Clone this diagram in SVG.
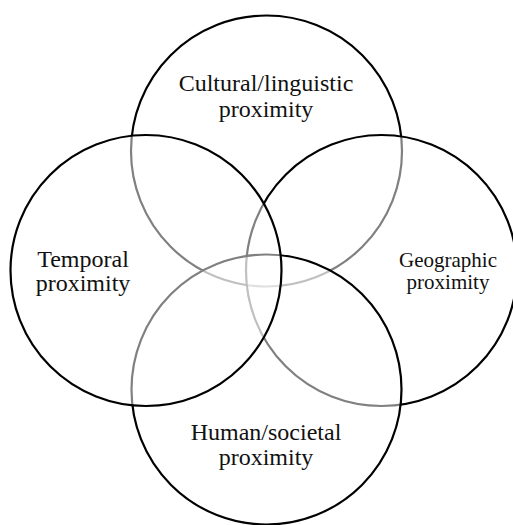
<svg xmlns="http://www.w3.org/2000/svg" width="513" height="525" viewBox="0 0 513 525">
<style>
.c{fill:#fff;fill-opacity:0.5;stroke:#000;stroke-width:2.2}
.t{font-family:"Liberation Serif","Times New Roman",serif;font-size:24px;fill:#111;text-anchor:middle}
.s{font-size:21px}
</style>
<rect width="513" height="525" fill="#fff"/>
<g id="cultural">
<circle class="c" cx="266.5" cy="151" r="135.5"/>
<text class="t" x="266" y="91">Cultural/linguistic</text>
<text class="t" x="266" y="117">proximity</text>
</g>
<g id="geographic">
<circle class="c" cx="381.5" cy="270.5" r="135.5"/>
<text class="t s" x="448" y="267">Geographic</text>
<text class="t s" x="448" y="289">proximity</text>
</g>
<g id="human">
<circle class="c" cx="266.5" cy="389.5" r="135"/>
<text class="t" x="266" y="440">Human/societal</text>
<text class="t" x="266" y="465">proximity</text>
</g>
<g id="temporal">
<circle class="c" cx="146" cy="270.5" r="135.5"/>
<text class="t" x="83" y="267">Temporal</text>
<text class="t" x="83" y="291">proximity</text>
</g>
</svg>
